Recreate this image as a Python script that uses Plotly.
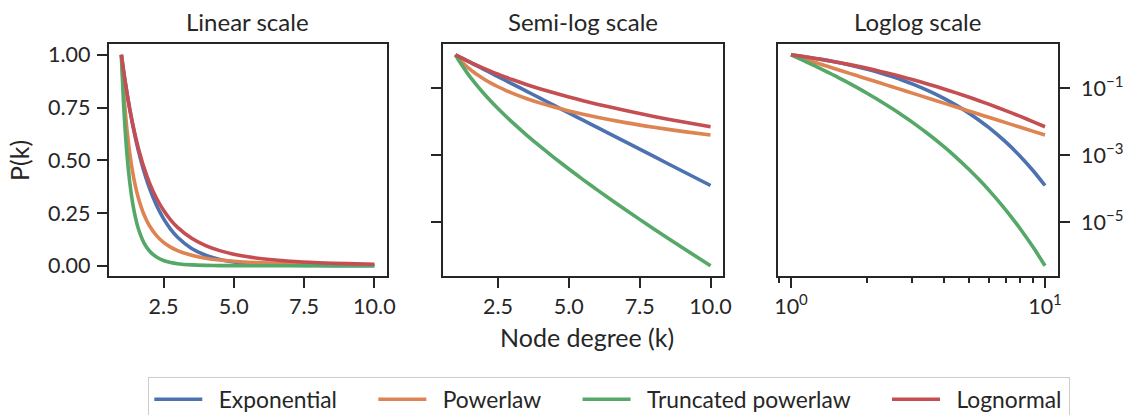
import plotly.graph_objects as go

# Node degree values (x) and curve values
k = [1, 1.1, 1.2, 1.3, 1.4, 1.5, 1.6, 1.8, 2, 2.25, 2.5, 2.75, 3, 3.5, 4, 4.5,
     5, 5.5, 6, 7, 8, 9, 10]

exponential = [1.0, 0.904837, 0.818731, 0.740818, 0.670320, 0.606531, 0.548812,
               0.449329, 0.367879, 0.286505, 0.223130, 0.173774, 0.135335,
               0.082085, 0.049787, 0.030197, 0.018316, 0.011109, 0.0067379,
               0.0024788, 0.00091188, 0.00033546, 0.00012341]

powerlaw = [1.0, 0.79553, 0.64560, 0.53277, 0.44596, 0.37790, 0.32368, 0.24398,
            0.18947, 0.14281, 0.11090, 0.08823, 0.07160, 0.04946, 0.035897,
            0.027058, 0.021012, 0.016716, 0.013566, 0.0093707, 0.0068011,
            0.0051265, 0.0039811]

truncated = [1.0, 0.71983, 0.52857, 0.39469, 0.29894, 0.22921, 0.17764, 0.10963,
             0.069702, 0.040916, 0.024745, 0.015332, 0.0096900, 0.0040599,
             0.0017872, 0.00081707, 0.00038486, 0.00018570, 0.000091407,
             0.000023228, 0.0000062018, 0.0000017197, 4.9131e-7]

lognormal = [1.0, 0.904971, 0.81960, 0.74321, 0.67498, 0.61406, 0.55964, 0.46742,
             0.39322, 0.31990, 0.26287, 0.21800, 0.18230, 0.13036, 0.095637,
             0.071705, 0.054771, 0.042518, 0.033475, 0.021511, 0.014387,
             0.0099408, 0.0070584]

series_names = ["Exponential", "Powerlaw", "Truncated powerlaw", "Lognormal"]
series_values = [exponential, powerlaw, truncated, lognormal]
colors = ["#4C72B0", "#DD8452", "#55A868", "#C44E52"]

panel_titles = ["Linear scale", "Semi-log scale", "Loglog scale"]
lin_xticks = [2.5, 5.0, 7.5, 10.0]
lin_yticks = [0.0, 0.25, 0.5, 0.75, 1.0]
log_yticks = [1e-1, 1e-3, 1e-5]
log_yticktext = ["10<sup>−1</sup>", "10<sup>−3</sup>", "10<sup>−5</sup>"]
log_xticks = [1, 10]
log_xticktext = ["10<sup>0</sup>", "10<sup>1</sup>"]
log_xminor = [0.9, 2, 3, 4, 5, 6, 7, 8, 9]

W, H = 1125, 415
FONT = "Lato"
INK = "#262626"
TICK_SIZE = 21.5

fig = go.Figure()
for p, (xa, ya) in enumerate([("x", "y"), ("x2", "y2"), ("x3", "y3")]):
    for i, (name, vals, col) in enumerate(zip(series_names, series_values, colors)):
        trail = "\u2009" if i == len(series_names) - 1 else "\u2003\u2002\u2009"
        fig.add_trace(go.Scatter(
            x=k, y=vals, mode="lines", name="\u2002" + name + trail,
            legendgroup=name, showlegend=(p == 0), xaxis=xa, yaxis=ya,
            line=dict(color=col, width=3.6, shape="spline", smoothing=0.8),
            hoverinfo="skip"))

def px_x(a, b):
    return [a / W, b / W]

def px_y(top, bottom):
    return [1 - bottom / H, 1 - top / H]

ydom = px_y(44.3, 276.3)
common = dict(showline=True, mirror=True, linecolor=INK, linewidth=2,
              ticks="outside", ticklen=10, tickwidth=2, tickcolor=INK,
              showgrid=False, zeroline=False,
              tickfont=dict(family=FONT, size=TICK_SIZE, color=INK))

fig.update_layout(
    width=W, height=H, margin=dict(l=0, r=0, t=0, b=0, autoexpand=False),
    paper_bgcolor="white", plot_bgcolor="white",
    font=dict(family=FONT, color=INK),
    xaxis=dict(domain=px_x(108.7, 387), range=[0.55, 10.45], tickvals=lin_xticks,
               tickformat=".1f", anchor="y", ticklabelstandoff=0, **common),
    yaxis=dict(domain=ydom, range=[-0.05, 1.05], tickvals=lin_yticks,
               tickformat=".2f", anchor="x", ticklabelstandoff=2, **common),
    xaxis2=dict(domain=px_x(442.7, 723.3), range=[0.55, 10.45], tickvals=lin_xticks,
                tickformat=".1f", anchor="y2", ticklabelstandoff=0, **common),
    yaxis2=dict(domain=ydom, type="log", range=[-6.624, 0.315], tickvals=log_yticks,
                showticklabels=False, anchor="x2", **common),
    xaxis3=dict(domain=px_x(778.3, 1057.7), type="log", range=[-0.05, 1.05],
                tickvals=log_xticks, ticktext=log_xticktext, anchor="y3",
                ticklabelstandoff=0,
                minor=dict(tickvals=log_xminor, ticklen=5, tickwidth=1.5,
                           tickcolor=INK, ticks="outside"),
                **common),
    yaxis3=dict(domain=ydom, type="log", range=[-6.624, 0.315], tickvals=log_yticks,
                ticktext=log_yticktext, side="right", anchor="x3",
                ticklabelstandoff=7, **common),
    legend=dict(orientation="h", x=148.3 / W, xanchor="left", y=1 - 377 / H,
                yanchor="top", bordercolor="#cccccc", borderwidth=1,
                bgcolor="white", font=dict(family=FONT, size=22.8, color=INK),
                itemwidth=48, traceorder="normal"),
)

# panel titles
centers = [(108.7 + 387) / 2, (442.7 + 723.3) / 2, (778.3 + 1057.7) / 2]
for t, cx in zip(panel_titles, centers):
    fig.add_annotation(text=t, x=cx / W, y=1 - 22 / H, xref="paper", yref="paper",
                       xanchor="center", yanchor="middle", showarrow=False,
                       font=dict(family=FONT, size=24, color=INK))

fig.add_annotation(text="Node degree (k)", x=586.7 / W, y=1 - 337 / H, xref="paper",
                   yref="paper", xanchor="center", yanchor="middle", showarrow=False,
                   font=dict(family=FONT, size=25, color=INK))
fig.add_annotation(text="P(k)", x=19 / W, y=1 - 161 / H, xref="paper", yref="paper",
                   xanchor="center", yanchor="middle", showarrow=False, textangle=-90,
                   font=dict(family=FONT, size=25, color=INK))

fig.write_html("out.html")
